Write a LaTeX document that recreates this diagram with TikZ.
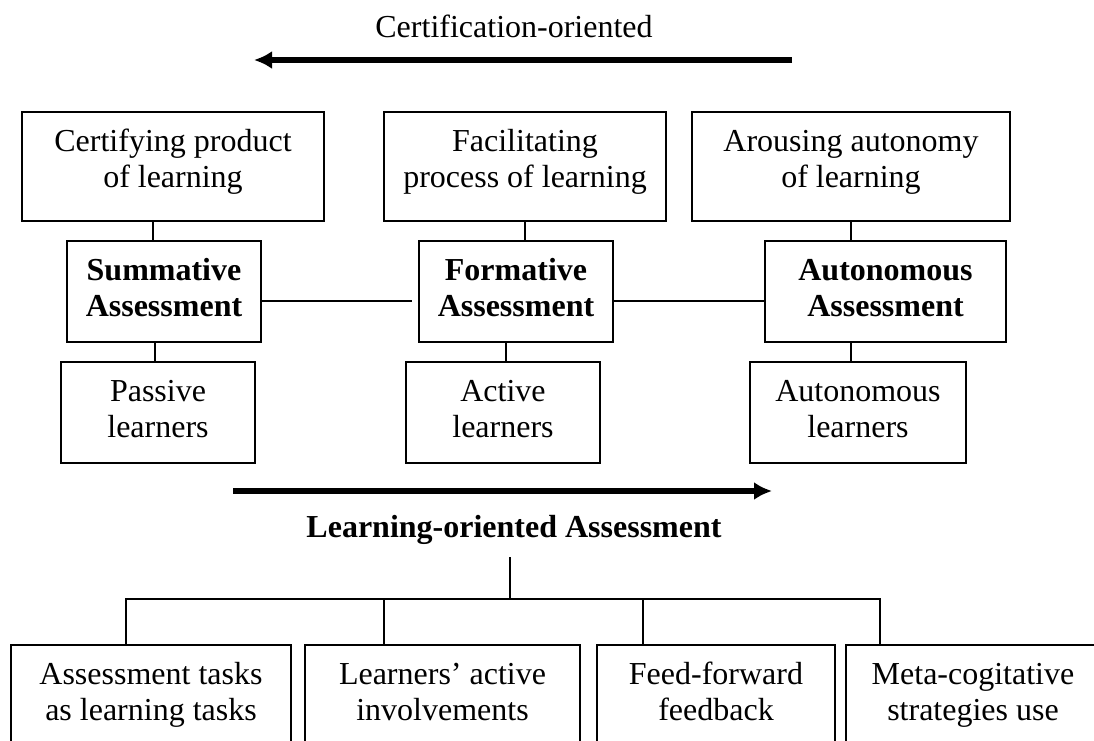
\documentclass[tikz,border=0pt]{standalone}
\usepackage{fontspec}
\setmainfont{Liberation Serif}
\usetikzlibrary{arrows.meta}
\newcommand{\twoline}[3]{\rule{0pt}{26pt}#1\\#2\rule[-#3pt]{0pt}{#3pt}}
\begin{document}
\begin{tikzpicture}[x=1pt,y=-1pt,
  font=\fontsize{32}{36}\selectfont,
  box/.style={draw, line width=2pt, align=center, inner xsep=0pt, inner ysep=13.5pt, outer sep=0pt, anchor=north},
  boldbox/.style={box, font=\fontsize{32}{36}\selectfont\bfseries},
  conn/.style={line width=2pt},
  bigarrow/.style={line width=6pt, -{Latex[length=18pt,width=18pt]}}]
\useasboundingbox (0,0) rectangle (1094,740);
\clip (0,0) rectangle (1094,740);

% top arrow and label
\node[anchor=base] (cert) at (514,37) {Certification-oriented};
\coordinate (ca1) at (792,60);
\coordinate (ca2) at (254,60);
\draw[bigarrow] (ca1) -- (ca2);

% top row
\node[box, minimum width=302pt] (t1) at (173,112) {\twoline{Certifying product}{of learning}{20}};
\node[box, minimum width=282pt] (t2) at (525,112) {\twoline{Facilitating}{process of learning}{20}};
\node[box, minimum width=318pt] (t3) at (851,112) {\twoline{Arousing autonomy}{of learning}{20}};

% middle row
\node[boldbox, minimum width=194pt] (m1) at (164,241) {\twoline{Summative}{Assessment}{12}};
\node[boldbox, minimum width=194pt] (m2) at (516,241) {\twoline{Formative}{Assessment}{12}};
\node[boldbox, minimum width=241pt] (m3) at (885.5,241) {\twoline{Autonomous}{Assessment}{12}};

% lower row
\node[box, minimum width=194pt] (b1) at (158,362) {\twoline{Passive}{learners}{12}};
\node[box, minimum width=194pt] (b2) at (503,362) {\twoline{Active}{learners}{12}};
\node[box, minimum width=216pt] (b3) at (858,362) {\twoline{Autonomous}{learners}{12}};

% vertical connectors
\draw[conn] ([xshift=-20pt]t1.south) -- ([xshift=-11pt]m1.north);
\draw[conn] ([xshift=-9pt]m1.south) -- ([xshift=-3pt]b1.north);
\draw[conn] (t2.south) -- ([xshift=9pt]m2.north);
\draw[conn] ([xshift=-10pt]m2.south) -- ([xshift=3pt]b2.north);
\draw[conn] (t3.south) -- ([xshift=-34.5pt]m3.north);
\draw[conn] ([xshift=-34.5pt]m3.south) -- ([xshift=-7pt]b3.north);

% horizontal connectors
\coordinate (g1) at (412,301);
\draw[conn] ([yshift=-9.5pt]m1.east) -- (g1);
\draw[conn] ([yshift=-9.5pt]m2.east) -- ([yshift=-9.5pt]m3.west);

% bottom arrow and label
\coordinate (la1) at (233,491);
\coordinate (la2) at (772,491);
\draw[bigarrow] (la1) -- (la2);
\node[anchor=base, font=\fontsize{32}{36}\selectfont\bfseries] (loa) at (514,537) {Learning-oriented Assessment};

% bottom boxes
\node[box, minimum width=280pt] (q1) at (151,645) {\twoline{Assessment tasks}{as learning tasks}{30}};
\node[box, minimum width=275pt] (q2) at (442.5,645) {\twoline{Learners’ active}{involvements}{30}};
\node[box, minimum width=238pt] (q3) at (716,645) {\twoline{Feed-forward}{feedback}{30}};
\node[box, minimum width=254pt] (q4) at (973,645) {\twoline{Meta-cogitative}{strategies use}{30}};

% tree connectors
\coordinate (lv) at (510,557);
\coordinate (bar) at (510,599);
\draw[conn] (lv) -- (bar);
\draw[conn] ([xshift=-25pt]q1.north) |- (bar) -| ([xshift=-93pt]q4.north);
\draw[conn] ([xshift=-58.5pt]q2.north) -- ([xshift=-58.5pt]q2.north |- bar);
\draw[conn] ([xshift=-73pt]q3.north) -- ([xshift=-73pt]q3.north |- bar);
\end{tikzpicture}
\end{document}
